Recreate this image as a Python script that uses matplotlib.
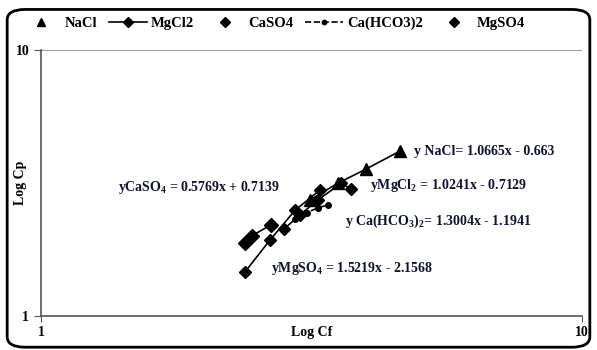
import numpy as np
import matplotlib.pyplot as plt
from matplotlib.patches import FancyBboxPatch

plt.rcParams['font.family'] = ['Liberation Serif', 'DejaVu Serif']
plt.rcParams['font.weight'] = 'bold'
plt.rcParams['mathtext.fontset'] = 'custom'
plt.rcParams['mathtext.rm'] = 'Liberation Serif:bold'
plt.rcParams['mathtext.it'] = 'Liberation Serif:bold'
plt.rcParams['mathtext.bf'] = 'Liberation Serif:bold'

# data (Cf, Cp)
nacl_cf = [3.14, 3.54, 3.99, 4.61]
nacl_cp = [2.73, 3.16, 3.57, 4.17]

mgcl2_cf = [2.81, 3.01, 3.25, 3.59, 3.74]
mgcl2_cp = [2.12, 2.40, 2.73, 3.16, 3.00]

caso4_cf = [2.38, 2.45, 2.66]
caso4_cp = [1.88, 2.00, 2.20]

cahco3_cf = [2.95, 3.10, 3.25, 3.40]
cahco3_cp = [2.32, 2.45, 2.55, 2.62]

mgso4_cf = [2.38, 2.65, 2.95, 3.28]
mgso4_cp = [1.46, 1.93, 2.50, 2.98]

fig = plt.figure(figsize=(5.97, 3.5), dpi=100)
ax = fig.add_axes([0.0687, 0.097, 0.906, 0.76])

# rounded chart border
frame = FancyBboxPatch((0.012, 0.008), 0.976, 0.965, boxstyle='round,pad=0,rounding_size=0.03',
                       transform=fig.transFigure, fill=False, lw=2, ec='black', clip_on=False)
fig.patches.append(frame)

ax.plot(nacl_cf, nacl_cp, color='black', lw=1.2)
ax.plot(nacl_cf, nacl_cp, ls='none', marker='^', ms=8, color='black', label='NaCl')
ax.plot(mgcl2_cf, mgcl2_cp, color='black', lw=1.2, marker='D', ms=6, label='MgCl2')
ax.plot(caso4_cf, caso4_cp, color='black', lw=1.2)
ax.plot(caso4_cf, caso4_cp, ls='none', marker='D', ms=7, color='black', label='CaSO4')
ax.plot(cahco3_cf, cahco3_cp, color='black', lw=1.2, ls='--', marker='o', ms=4, label='Ca(HCO3)2')
ax.plot(mgso4_cf, mgso4_cp, color='black', lw=1.2)
ax.plot(mgso4_cf, mgso4_cp, ls='none', marker='D', ms=6, color='black', label='MgSO4')

ax.set_xscale('log')
ax.set_yscale('log')
ax.set_xlim(1, 10)
ax.set_ylim(1, 10)
ax.set_xticks([1, 10])
ax.set_xticklabels(['1', '10'])
ax.set_yticks([1, 10])
ax.set_yticklabels(['1', '10'])
ax.minorticks_off()
ax.tick_params(labelsize=10, length=4, color='#555555')
ax.tick_params(axis='y', length=5)
for s in ['top', 'right']:
    ax.spines[s].set_visible(False)
for s in ['left', 'bottom']:
    ax.spines[s].set_color('#555555')
    ax.spines[s].set_linewidth(1.2)
ax.axhline(10, color='#888888', lw=1.2)

ax.set_xlabel('Log Cf', fontsize=10, fontweight='bold', labelpad=-10)
ax.set_ylabel('Log Cp', fontsize=10, fontweight='bold', labelpad=-8)

eq = dict(fontsize=10, fontweight='bold', color='#111133', transform=ax.transAxes, va='center')
ax.text(0.689, 0.618, 'y NaCl= 1.0665x - 0.663', **eq)
ax.text(0.608, 0.491, r'yMgCl$_2$ = 1.0241x - 0.7129', **eq)
ax.text(0.562, 0.355, r'y Ca(HCO$_3$)$_2$= 1.3004x - 1.1941', **eq)
ax.text(0.425, 0.178, r'yMgSO$_4$ = 1.5219x - 2.1568', **eq)
ax.text(0.142, 0.484, r'yCaSO$_4$ = 0.5769x + 0.7139', **eq)

fig.legend(loc='upper left', bbox_to_anchor=(0.015, 0.99), ncol=5, frameon=False,
           fontsize=10.5, handlelength=2.6, columnspacing=0.8, handletextpad=0.3,
           markerscale=0.8)

fig.savefig('out.png', dpi=100)
